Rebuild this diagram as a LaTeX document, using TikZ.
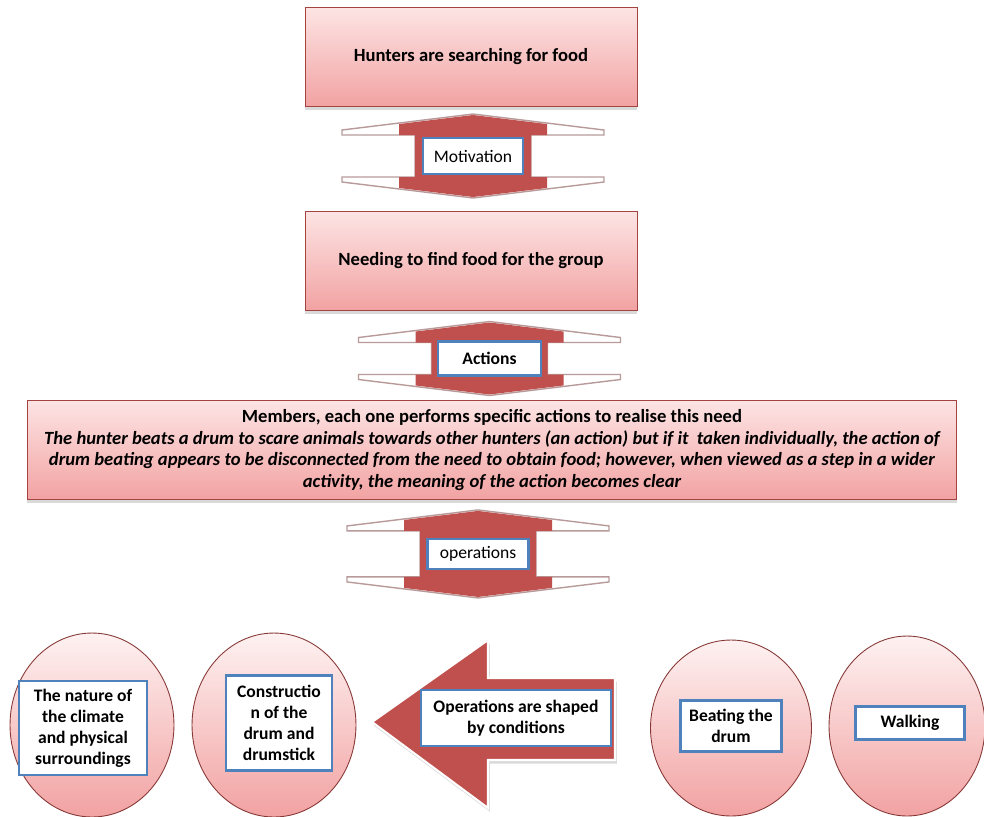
\documentclass[tikz,border=0pt]{standalone}
\usepackage{fontspec}
\setmainfont{Carlito}
\usetikzlibrary{shapes.geometric,shadows,calc}
\definecolor{vermelho}{HTML}{C0504D}
\definecolor{rosaclaro}{HTML}{FDE4E4}
\definecolor{rosaesc}{HTML}{F2A2A2}
\definecolor{azulborda}{HTML}{4F81BD}
\definecolor{cinzaseta}{HTML}{B89A9A}

\newcommand{\setadupla}[2]{%
  \begin{scope}[shift={(#1)}]
    \draw[dupla] (0,-#2) -- (131,-#2+16) -- (131,-#2+21) -- (58,-#2+21) -- (58,#2-21)
      -- (131,#2-21) -- (131,#2-16) -- (0,#2) -- (-131,#2-16) -- (-131,#2-21)
      -- (-58,#2-21) -- (-58,-#2+21) -- (-131,-#2+21) -- (-131,-#2+16) -- cycle;
    \begin{scope}
      \clip (-74,-60) rectangle (74,60);
      \fill[vermelho] (0,-#2+1) -- (131,-#2+17) -- (131,-#2+21) -- (58,-#2+21) -- (58,#2-21)
        -- (131,#2-21) -- (131,#2-17) -- (0,#2-1) -- (-131,#2-17) -- (-131,#2-21)
        -- (-58,#2-21) -- (-58,-#2+21) -- (-131,-#2+21) -- (-131,-#2+17) -- cycle;
    \end{scope}
  \end{scope}}

\begin{document}
\begin{tikzpicture}[x=0.02cm, y=-0.02cm,
  caixa/.style={draw=vermelho!85!black, line width=0.5pt, top color=rosaclaro,
                bottom color=rosaesc, minimum width=6.64cm, minimum height=1.98cm,
                align=center, font=\fontsize{10.6}{12.4}\selectfont\bfseries,
                drop shadow={opacity=0.3, shadow xshift=0pt, shadow yshift=-2pt}},
  rotulo/.style={draw=azulborda, line width=1.6pt, fill=white, align=center,
                 inner sep=2pt},
  bola/.style={ellipse, draw=vermelho!70!black, line width=0.5pt,
               top color=rosaclaro!50, bottom color=rosaesc, inner sep=0pt},
  dupla/.style={fill=white, draw=cinzaseta, line width=0.8pt},
  seta/.style={fill=vermelho, draw=white, line width=1.2pt,
               drop shadow={opacity=0.3, shadow xshift=1pt, shadow yshift=-2pt}}
]
\useasboundingbox (0,0) rectangle (984,816);
\node[caixa] (d1) at (471,57) {Hunters are searching for food};
\node[caixa] (d2) at (471,261) {Needing to find food for the group};
\node[caixa, minimum width=18.6cm] (d3) at (492,450)
  {Members, each one performs specific actions to realise this need\\
   \itshape The hunter beats a drum to scare animals towards other hunters (an action) but if it\ \ taken individually, the action of\\
   \itshape drum beating appears\ to be disconnected from the need to obtain food; however, when viewed as a step in a wider\\
   \itshape activity, the meaning of the action becomes clear};
\coordinate (c1) at ($(d1.south)!0.5!(d2.north)+(2,-3)$);
\coordinate (c2) at ($(d2.south)!0.5!(d3.north)+(8,3)$);
\coordinate (c3) at ($(d3.south)+(-14,54)$);
\setadupla{c1}{42}
\setadupla{c2}{37}
\setadupla{c3}{44}
\node[rotulo, minimum width=2.0cm, minimum height=0.72cm] (m1) at (c1) {Motivation};
\node[rotulo, minimum width=2.06cm, minimum height=0.68cm, font=\bfseries] (m2) at (c2) {Actions};
\node[rotulo, minimum width=2.02cm, minimum height=0.6cm] (m3) at (c3) {operations};
\node[bola, minimum width=3.28cm, minimum height=3.68cm] (e1) at (92,725) {};
\node[bola, minimum width=3.28cm, minimum height=3.68cm] (e2) at (274,725) {};
\node[bola, minimum width=3.22cm, minimum height=3.52cm] (e3) at (731,728) {};
\node[bola, minimum width=3.12cm, minimum height=3.6cm] (e4) at (907,726) {};
\node[rotulo, font=\bfseries, minimum width=2.56cm, minimum height=1.88cm] (t1) at (83,728)
  {The nature of\\the climate\\and physical\\surroundings};
\node[rotulo, font=\bfseries, minimum width=2.12cm, minimum height=1.9cm] (t2) at (279,723)
  {Constructio\\n of the\\drum and\\drumstick};
\node[rotulo, font=\bfseries, minimum width=2.02cm, minimum height=1.02cm] (t3) at (731,726)
  {Beating the\\drum};
\node[rotulo, font=\bfseries, minimum width=2.18cm, minimum height=0.66cm] (t4) at (910,723)
  {Walking};
\draw[seta] (372,722) -- (488,640) -- (488,678) -- (615,678) -- (615,760)
  -- (488,760) -- (488,808) -- cycle;
\node[rotulo, font=\bfseries, minimum width=3.8cm, minimum height=1.12cm] (op) at (516,718)
  {Operations are shaped\\by conditions};
\end{tikzpicture}
\end{document}
